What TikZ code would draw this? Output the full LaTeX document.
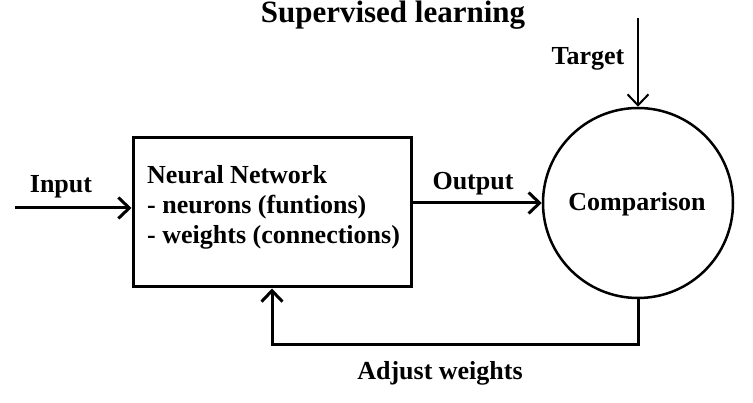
\documentclass[tikz,border=0pt]{standalone}
\usepackage{fontspec}
\setmainfont{Liberation Serif}
\usetikzlibrary{arrows.meta,calc}

\begin{document}
\begin{tikzpicture}[x=1pt,y=-1pt,
        lbl/.style={font=\fontsize{26}{30}\selectfont\bfseries,inner sep=0pt},
        netbox/.style={draw,line width=3pt,minimum width=278pt,minimum height=149pt,inner sep=0pt},
        cmpcircle/.style={draw,circle,line width=2.5pt,minimum size=190pt,inner sep=0pt},
        arr/.style={line width=3pt,-{Straight Barb[length=11pt,width=21pt]}}]
        % 画布大小
        \useasboundingbox (0,0) rectangle (753,403);
        % 标题
        \node[lbl,font=\fontsize{31}{34}\selectfont\bfseries,anchor=base] (title) at (393,23) {Supervised learning};
        % 神经网络方框
        \node[netbox] (net) at (272,212.5) {};
        \node[lbl,align=left,anchor=north west] (nettxt) at (147,165.5) {Neural Network\\- neurons (funtions)\\- weights (connections)};
        % 比较圆
        \node[cmpcircle] (cmp) at (638,203) {};
        \node[lbl,anchor=base] (cmptxt) at (637,211) {Comparison};
        % 输入
        \coordinate (in) at (15,208);
        \draw[arr] (in) -- (in -| net.west);
        \node[lbl,anchor=base] (inlbl) at (61,193) {Input};
        % 输出
        \draw[arr] (net.east |- cmp.west) -- (cmp.west);
        \node[lbl,anchor=base] (outlbl) at (473,190) {Output};
        % 目标
        \coordinate (tgt) at (638,18);
        \draw[arr,line width=2pt] (tgt) -- (cmp.north);
        \node[lbl,anchor=base] (tgtlbl) at (588,65) {Target};
        % 反馈调整权重
        \draw[arr] (cmp.south) -- ++(0,45) -| (net.south);
        \node[lbl,anchor=base] (adjlbl) at (440,380) {Adjust weights};
    \end{tikzpicture}
\end{document}
